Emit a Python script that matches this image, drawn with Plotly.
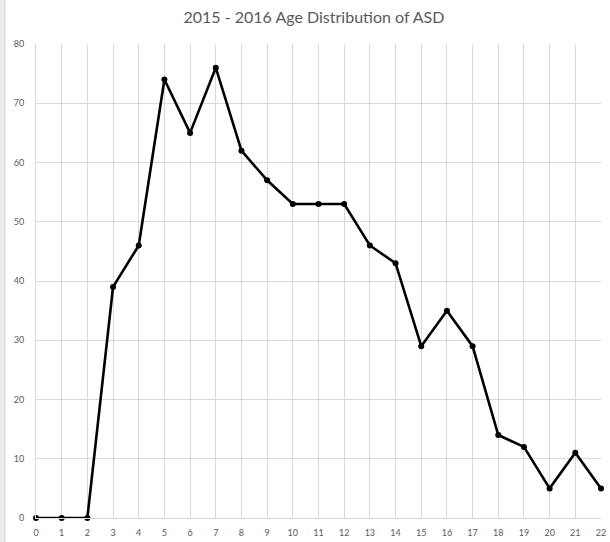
import plotly.graph_objects as go

ages = list(range(0, 23))
counts = [0, 0, 0, 39, 46, 74, 65, 76, 62, 57, 53, 53, 53, 46, 43, 29, 35, 29, 14, 12, 5, 11, 5]
y_ticks = [0, 10, 20, 30, 40, 50, 60, 70, 80]
title_text = "2015 - 2016 Age Distribution of ASD"

W, H = 610, 542
L, R, T, B = 36, 9, 44, 24

fig = go.Figure()
fig.add_trace(go.Scatter(
    x=ages, y=counts, mode="lines+markers",
    line=dict(color="#000000", width=2.6),
    marker=dict(color="#000000", size=6),
    cliponaxis=False, showlegend=False,
))

grid = "#d9d9d9"
tickfont = dict(family="Lato, Open Sans, sans-serif", size=9, color="#595959")

fig.update_layout(
    width=W, height=H,
    margin=dict(l=L, r=R, t=T, b=B, pad=0, autoexpand=False),
    paper_bgcolor="white", plot_bgcolor="white",
    title=dict(text=title_text, x=314 / W, xref="container", xanchor="center",
               y=1 - 17.5 / H, yref="container", yanchor="middle",
               font=dict(family="Lato, Open Sans, sans-serif", size=16, color="#595959")),
    xaxis=dict(range=[0, 22], tickvals=ages, ticktext=[str(a) for a in ages],
               showgrid=True, gridcolor=grid, gridwidth=1, automargin=False,
               zeroline=False, showline=True, linecolor=grid, linewidth=1,
               ticks="", tickfont=tickfont, ticklabelstandoff=6, fixedrange=True),
    yaxis=dict(range=[0, 80], tickvals=y_ticks, ticktext=[str(v) for v in y_ticks],
               showgrid=True, gridcolor=grid, gridwidth=1, automargin=False,
               zeroline=False, showline=True, linecolor=grid, linewidth=1,
               ticks="", tickfont=tickfont, ticklabelstandoff=9, fixedrange=True),
    shapes=[
        dict(type="rect", xref="paper", yref="paper",
             x0=-L / (W - L - R), x1=-(L - 5) / (W - L - R),
             y0=-B / (H - T - B), y1=1 + T / (H - T - B),
             fillcolor="#ececec", line=dict(width=0), layer="below"),
        dict(type="line", xref="paper", yref="paper",
             x0=-(L - 5) / (W - L - R), x1=-(L - 5) / (W - L - R),
             y0=-B / (H - T - B), y1=1 + T / (H - T - B),
             line=dict(color="#d0d0d0", width=1), layer="below"),
    ],
)

fig.write_html("out.html", config={"displayModeBar": False},
               post_script="document.body.style.margin='0';document.body.style.overflow='hidden';")
